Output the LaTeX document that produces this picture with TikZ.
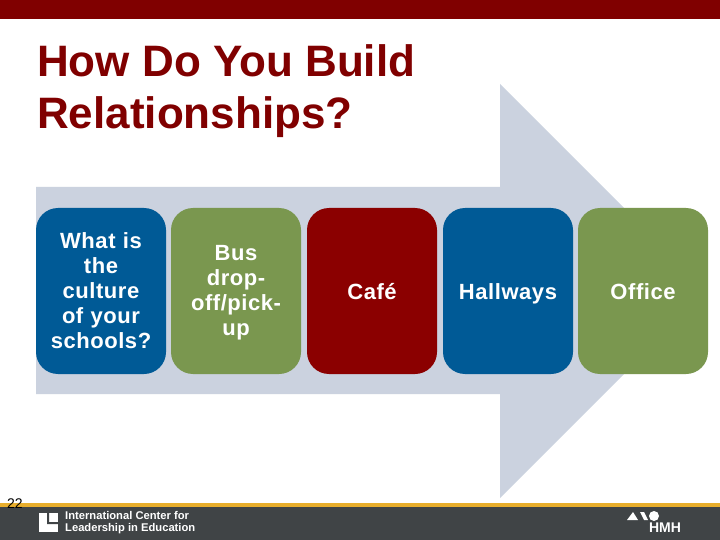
\documentclass[tikz,border=0pt]{standalone}
\usepackage{fontspec}
\setmainfont{Liberation Sans}
\usepackage{tikz}
\usetikzlibrary{positioning}
\definecolor{hmhred}{HTML}{800000}
\definecolor{boxred}{HTML}{8B0000}
\definecolor{boxblue}{HTML}{005A96}
\definecolor{boxgreen}{HTML}{7A974F}
\definecolor{arrowgrey}{HTML}{CBD2DF}
\definecolor{footgrey}{HTML}{404446}
\definecolor{footgold}{HTML}{E8AE2C}
\newcommand{\lowstrut}{\rule[-7pt]{0pt}{31pt}}
\tikzset{
  stepbox/.style={draw=none,rounded corners=22pt,minimum width=130pt,minimum height=166pt,
    inner sep=0pt,align=center,text=white,text width=124pt,
    font=\fontsize{22}{25}\selectfont\bfseries\addfontfeatures{LetterSpace=2.5}},
  title/.style={anchor=north west,inner sep=0pt,align=left,text=hmhred,
    font=\fontsize{44}{52.5}\selectfont\bfseries},
  foot/.style={inner sep=0pt,align=left,text=white,font=\fontsize{11.2}{12}\selectfont\bfseries}
}
\begin{document}
\begin{tikzpicture}
  [x=1pt,y=-1pt]
  \useasboundingbox (0,0) rectangle (720,540);
  \fill[white] (0,0) rectangle (720,540);
  \fill[hmhred] (0,0) rectangle (720,19);
  \fill[footgold] (0,502.5) rectangle (720,506.5);
  \fill[footgrey] (0,506.5) rectangle (720,540);
  \fill[arrowgrey] (36,187) -- (500,187) -- (500,84) -- (707,291) -- (500,498) -- (500,394) -- (36,394) -- cycle;
  \node[title] (heading) at (37,44) {How Do You Build\\Relationships?};
  \node[stepbox,fill=boxblue] (culture) at (101,291) {What is\\the\\culture\\of your\\schools?};
  \node[stepbox,fill=boxgreen] (bus) at (236,291) {\rule{0pt}{19pt}Bus\\drop-\\off/pick-\\up};
  \node[stepbox,fill=boxred] (cafe) at (372,291) {\lowstrut Café};
  \node[stepbox,fill=boxblue] (hall) at (508,291) {\lowstrut Hallways};
  \node[stepbox,fill=boxgreen] (office) at (643,291) {\lowstrut Office};
  \node[inner sep=0pt,font=\fontsize{14}{14}\selectfont,anchor=west] (page) at (7,504) {22};
  % footer marks
  \fill[white] (39,513) rectangle (58,532);
  \fill[footgrey] (47,513) rectangle (49,524) (49,522) rectangle (58,524);
  \node[foot,anchor=west] (icle) at (65,523) {International Center for\\Leadership in Education};
  \fill[white] (627,520) -- (633,512) -- (638,520) -- cycle;
  \fill[white] (640,512) -- (644,512) -- (648,520) -- (644,520) -- cycle;
  \fill[white] (654,516) circle (5);
  \node[inner sep=0pt,text=white,font=\fontsize{14}{14}\selectfont\bfseries] (hmh) at (665,528) {HMH};
\end{tikzpicture}
\end{document}
